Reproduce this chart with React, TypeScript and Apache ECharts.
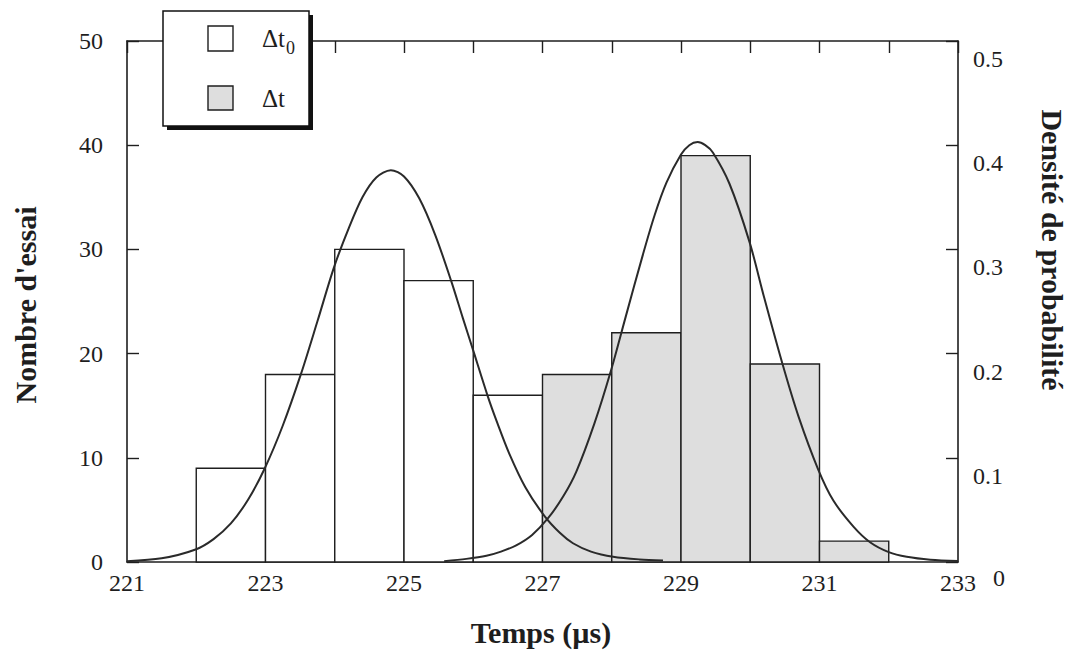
import React, { useEffect, useRef } from "react";
import * as echarts from "echarts";

// Histogram bins: start of each 1-µs bin and its count
const binStartT0 = [222, 223, 224, 225, 226];
const countsT0 = [9, 18, 30, 27, 16];
const binStartT = [227, 228, 229, 230, 231];
const countsT = [18, 22, 39, 19, 2];

// Fitted density curves (x in µs, density)
const curve1X = [221.0, 221.5, 221.99, 222.25, 222.5, 222.75, 222.99, 223.25, 223.51, 223.75, 223.99, 224.2, 224.4, 224.6, 224.81, 225.0, 225.22, 225.45, 225.68, 225.85, 225.99, 226.21, 226.35, 226.52, 226.75, 227.03, 227.25, 227.44, 227.7, 228.02, 228.4, 228.74];
const curve1Y = [0.0008, 0.0035, 0.012, 0.022, 0.037, 0.06, 0.09, 0.131, 0.18, 0.231, 0.283, 0.32, 0.35, 0.369, 0.376, 0.37, 0.349, 0.314, 0.27, 0.234, 0.205, 0.159, 0.133, 0.104, 0.072, 0.044, 0.028, 0.018, 0.01, 0.005, 0.0025, 0.0015];
const curve2X = [225.58, 225.9, 226.19, 226.4, 226.62, 226.85, 227.08, 227.3, 227.49, 227.75, 227.99, 228.2, 228.45, 228.62, 228.79, 229.0, 229.12, 229.24, 229.35, 229.46, 229.7, 229.99, 230.2, 230.47, 230.7, 230.98, 231.2, 231.49, 231.73, 232.0, 232.26, 232.6, 233.0];
const curve2Y = [0.0008, 0.003, 0.006, 0.01, 0.016, 0.026, 0.042, 0.063, 0.087, 0.133, 0.184, 0.235, 0.295, 0.333, 0.364, 0.391, 0.4, 0.403, 0.4, 0.393, 0.363, 0.307, 0.254, 0.189, 0.139, 0.089, 0.059, 0.034, 0.019, 0.0095, 0.005, 0.0022, 0.001];

const leftTicks = [0, 10, 20, 30, 40, 50];
const rightTicks = [0, 0.1, 0.2, 0.3, 0.4, 0.5];

const FONT = "Liberation Serif";
const INK = "#1e1e1e";
const GREY = "#dedede";

export default function App() {
  const ref = useRef<HTMLDivElement>(null);
  useEffect(() => {
    if (!ref.current) return;
    const chart = echarts.init(ref.current, undefined, { renderer: "svg" });

    const bars = (starts: number[], counts: number[]) =>
      starts.map((s, i) => [s, s + 1, counts[i]]);

    const renderBar = (fill: string) => (params: any, api: any) => {
      const x0 = api.value(0);
      const x1 = api.value(1);
      const v = api.value(2);
      const p0 = api.coord([x0, v]);
      const p1 = api.coord([x1, 0]);
      return {
        type: "rect",
        shape: { x: p0[0], y: p0[1], width: p1[0] - p0[0], height: p1[1] - p0[1] },
        style: { fill, stroke: INK, lineWidth: 1.4 },
      };
    };

    const axisLine = { show: true, onZero: false, lineStyle: { color: INK, width: 1.6 } };
    const inTick = { show: true, inside: true, length: 12, lineStyle: { color: INK, width: 1.4 } };

    const option: any = {
      animation: false,
      backgroundColor: "#ffffff",
      textStyle: { fontFamily: FONT, color: INK },
      grid: { left: 127, right: 118, top: 41, bottom: 93, containLabel: false },
      xAxis: [
        {
          type: "value",
          position: "bottom",
          min: 221,
          max: 233,
          interval: 2,
          axisLine,
          axisTick: { show: false },
          splitLine: { show: false },
          axisLabel: { fontFamily: FONT, fontSize: 24, color: INK, margin: 9, showMinLabel: true, showMaxLabel: true },
        },
        {
          type: "value",
          position: "top",
          min: 221,
          max: 233,
          interval: 1,
          axisLine,
          axisTick: inTick,
          splitLine: { show: false },
          axisLabel: { show: false },
        },
      ],
      yAxis: [
        {
          type: "value",
          position: "left",
          min: leftTicks[0],
          max: leftTicks[leftTicks.length - 1],
          interval: 10,
          axisLine,
          axisTick: inTick,
          splitLine: { show: false },
          axisLabel: { fontFamily: FONT, fontSize: 24, color: INK, margin: 24, showMinLabel: true, showMaxLabel: true },
        },
        {
          type: "value",
          position: "right",
          min: rightTicks[0],
          max: rightTicks[rightTicks.length - 1],
          interval: 0.1,
          axisLine,
          axisTick: inTick,
          splitLine: { show: false },
          axisLabel: {
            fontFamily: FONT,
            fontSize: 24,
            color: INK,
            margin: 15,
            verticalAlign: "top",
            lineHeight: 36,
            showMinLabel: true,
            showMaxLabel: true,
            formatter: (v: number) => (v === 0 ? "{z|0}" : v.toFixed(1)),
            rich: {
              z: { fontFamily: FONT, fontSize: 24, color: INK, padding: [0, 0, 0, 20], lineHeight: 32 },
            },
          },
        },
      ],
      series: [
        {
          name: "Δt0",
          type: "custom",
          xAxisIndex: 0,
          yAxisIndex: 0,
          renderItem: renderBar("#ffffff"),
          encode: { x: [0, 1], y: 2 },
          data: bars(binStartT0, countsT0),
          z: 2,
        },
        {
          name: "Δt",
          type: "custom",
          xAxisIndex: 0,
          yAxisIndex: 0,
          renderItem: renderBar(GREY),
          encode: { x: [0, 1], y: 2 },
          data: bars(binStartT, countsT),
          z: 2,
        },
        {
          type: "line",
          xAxisIndex: 0,
          yAxisIndex: 1,
          data: curve1X.map((x, i) => [x, curve1Y[i]]),
          smooth: 0.3,
          showSymbol: false,
          symbol: "none",
          lineStyle: { color: "#2a2a2a", width: 2 },
          z: 5,
        },
        {
          type: "line",
          xAxisIndex: 0,
          yAxisIndex: 1,
          data: curve2X.map((x, i) => [x, curve2Y[i]]),
          smooth: 0.3,
          showSymbol: false,
          symbol: "none",
          lineStyle: { color: "#2a2a2a", width: 2 },
          z: 5,
        },
      ],
      graphic: [
        // Legend box with drop shadow
        { type: "rect", z: 100, shape: { x: 167, y: 15, width: 146, height: 115 }, style: { fill: "#111111" } },
        { type: "rect", z: 101, shape: { x: 163, y: 11, width: 146, height: 115 }, style: { fill: "#ffffff", stroke: "#111111", lineWidth: 1.5 } },
        { type: "rect", z: 102, shape: { x: 208, y: 26, width: 25, height: 25 }, style: { fill: "#ffffff", stroke: INK, lineWidth: 1.4 } },
        { type: "rect", z: 102, shape: { x: 208, y: 86, width: 25, height: 24 }, style: { fill: GREY, stroke: INK, lineWidth: 1.4 } },
        {
          type: "text",
          z: 102,
          x: 262,
          y: 26,
          style: {
            text: "{a|Δt}{s|0}",
            fill: INK,
            rich: {
              a: { fontFamily: FONT, fontSize: 25, fill: INK, verticalAlign: "top", lineHeight: 28 },
              s: { fontFamily: FONT, fontSize: 18, fill: INK, padding: [16, 0, 0, 1], lineHeight: 28 },
            },
          },
        },
        {
          type: "text",
          z: 102,
          x: 262,
          y: 86,
          style: { text: "Δt", fontFamily: FONT, fontSize: 25, fill: INK },
        },
        // Axis titles
        {
          type: "text",
          x: 541,
          y: 632,
          style: { text: "Temps (µs)", fontFamily: FONT, fontSize: 30, fontWeight: "bold", fill: INK, align: "center", verticalAlign: "middle" },
        },
        {
          type: "text",
          x: 25,
          y: 305,
          rotation: Math.PI / 2,
          style: { text: "Nombre d'essai", fontFamily: FONT, fontSize: 30, fontWeight: "bold", fill: INK, align: "center", verticalAlign: "middle" },
        },
        {
          type: "text",
          x: 1052,
          y: 250,
          rotation: -Math.PI / 2,
          style: { text: "Densité de probabilité", fontFamily: FONT, fontSize: 30, fontWeight: "bold", fill: INK, align: "center", verticalAlign: "middle" },
        },
      ],
    };

    chart.setOption(option);
    return () => chart.dispose();
  }, []);

  return (
    <div
      ref={ref}
      style={{ position: "fixed", left: 0, top: 0, width: 1076, height: 655, background: "#ffffff" }}
    />
  );
}
